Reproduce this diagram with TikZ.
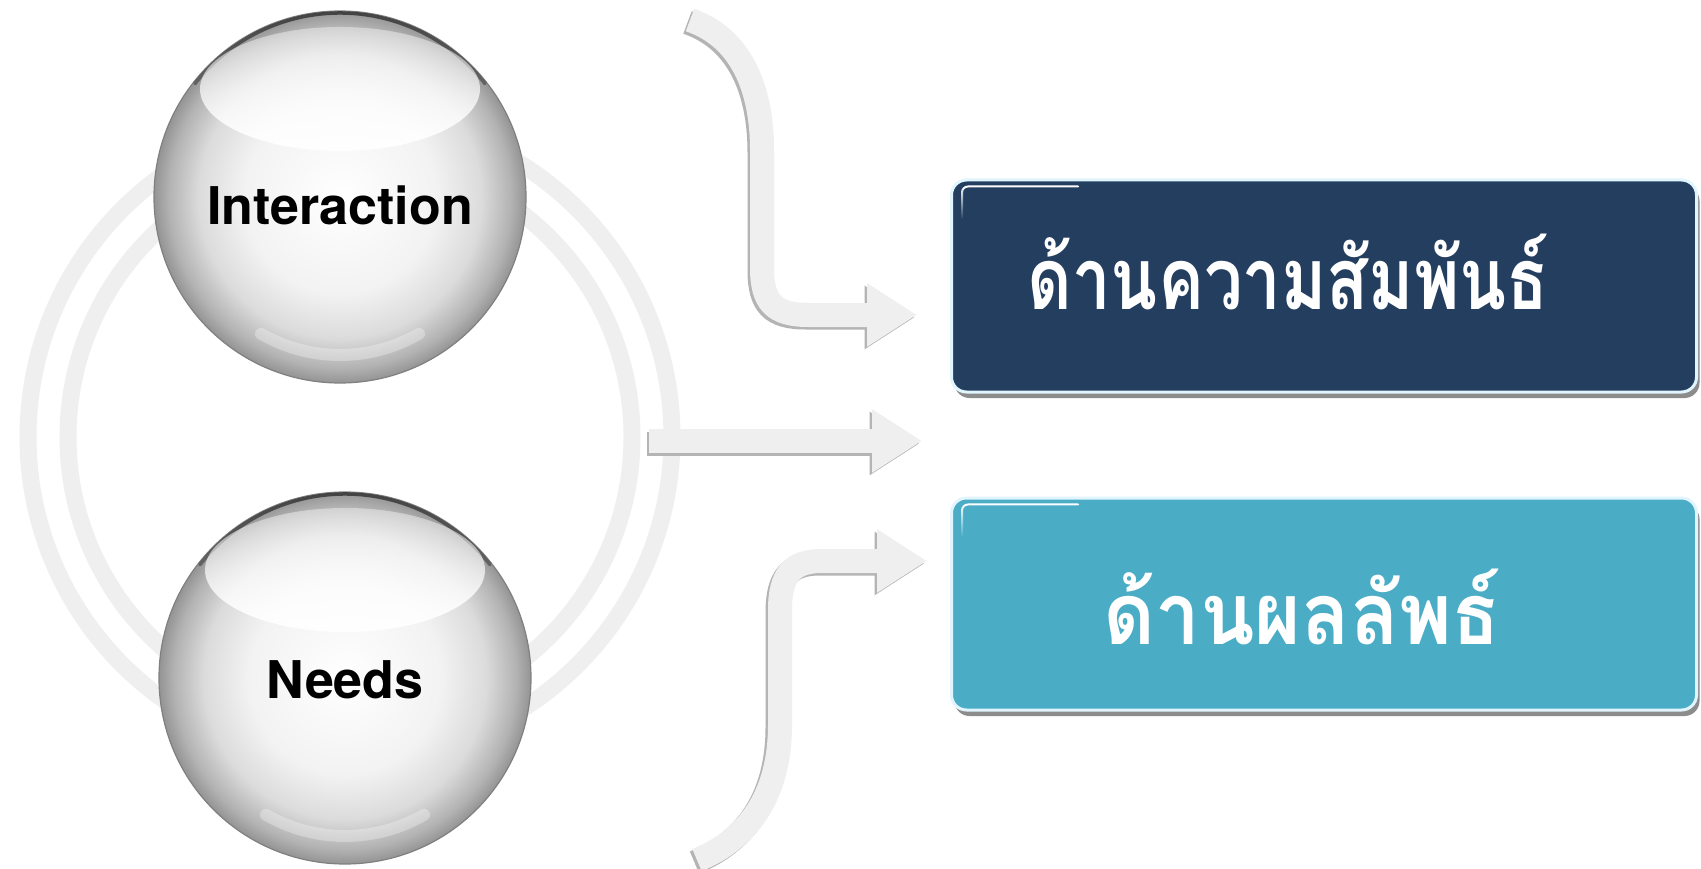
\documentclass[tikz,border=0pt]{standalone}
\usepackage{fontspec}
\usetikzlibrary{arrows.meta,fadings}
\newfontfamily\thaifont[Script=Thai]{Loma}
\newfontfamily\helv{TeX Gyre Heros}
\definecolor{navy}{HTML}{243E60}
\definecolor{tealbox}{HTML}{4BACC6}
\definecolor{arrowfill}{HTML}{EFEFEF}
\definecolor{arrowshade}{HTML}{B4B4B4}
\definecolor{ringc}{HTML}{EFEFEF}
\pgfdeclareradialshading{spheresh}{\pgfpoint{0bp}{0bp}}{%
  color(0bp)=(white); color(13bp)=(white!95!black); color(19bp)=(white!86!black);
  color(23bp)=(white!70!black); color(25bp)=(white!58!black); color(50bp)=(white!58!black)}
\tikzfading[name=fadedown, top color=transparent!0, bottom color=transparent!100]
\tikzfading[name=glossfade, top color=transparent!60, bottom color=transparent!5]
\tikzset{
  ringband/.style={draw=ringc, line width=17pt},
  sphere/.style={circle, minimum size=372pt, inner sep=0pt, shading=spheresh,
    draw=white!50!black, line width=1.2pt},
  spheretext/.style={font=\helv\bfseries\fontsize{52}{52}\selectfont, text=black},
  gloss/.style={fill=white, path fading=glossfade},
  box/.style={rounded corners=15pt, minimum width=745pt, minimum height=212pt,
    inner sep=0pt, draw=white!88!cyan, line width=3pt,
    preaction={fill=black!45, transform canvas={xshift=3pt,yshift=-6pt}}},
  boxtext/.style={text=white, inner sep=0pt, font=\thaifont\bfseries\fontsize{86}{86}\selectfont},
  bandshadow/.style={draw=arrowshade, line width=24pt,
    -{Triangle[length=50pt,width=60pt]}, arrowshade,
    transform canvas={xshift=-2.5pt,yshift=-2.5pt}},
  band/.style={draw=arrowfill, line width=24pt,
    -{Triangle[length=50pt,width=60pt]}, arrowfill},
}
\begin{document}
\begin{tikzpicture}[x=1pt,y=-1pt]
\useasboundingbox (0,0) rectangle (1701,869);
\fill[white] (0,0) rectangle (1701,869);

% rings
\coordinate (rc) at (350,437);
\draw[ringband] (rc) circle[radius=322pt];
\draw[ringband] (rc) circle[radius=282pt];

% arrows
\coordinate (a1s) at (690,20);
\coordinate (a1e) at (917,315);
\coordinate (a2s) at (649,441);
\coordinate (a2e) at (922,441);
\coordinate (a3s) at (697,860);
\coordinate (a3e) at (927,561);
\foreach \st in {bandshadow,band}{
  \draw[\st] (a1s) .. controls (742,38) and (762,90) .. (762,150) -- (762,268)
     .. controls (762,302) and (774,315) .. (808,315) -- (a1e);
  \draw[\st] (a2s) -- (a2e);
  \draw[\st] (a3s) .. controls (752,838) and (780,790) .. (780,725) -- (780,610)
     .. controls (780,575) and (792,561) .. (822,561) -- (a3e);
}

% spheres
\node[sphere] (inter) at (340,197) {};
\node[sphere] (needs) at (345,678) {};
\foreach \s in {inter,needs}{
  % top dark rim
  \draw[white!25!black, line width=3.5pt, line cap=round, path fading=fadedown]
    (\s.center) ++(38:184pt) arc[start angle=38, end angle=142, radius=184pt];
  % glossy highlight
  \fill[gloss] ([yshift=108pt]\s.center) ellipse[x radius=140pt, y radius=62pt];
  % bottom reflection
  \draw[white, line width=12pt, opacity=0.3, line cap=round]
    (\s.center) ++(240:158pt) arc[start angle=240, end angle=300, radius=158pt];
}
\node[spheretext] (tinter) at ([yshift=-8pt]inter.center) {Interaction};
\node[spheretext] (tneeds) at ([yshift=-2pt]needs.center) {Needs};

% boxes
\node[box, fill=navy] (b1) at (1324,286) {};
\node[box, fill=tealbox] (b2) at (1324,604) {};
\node[boxtext] (t1) at ([xshift=-36pt,yshift=14pt]b1.center) {\scalebox{0.80}[1]{ด้านความสัมพันธ์}};
\node[boxtext] (t2) at ([xshift=-22pt,yshift=-3pt]b2.center) {\scalebox{0.93}[1]{ด้านผลลัพธ์}};
\foreach \b in {b1,b2}{
  \draw[white, line width=2pt, path fading=fadedown, line cap=round]
    ([xshift=12pt,yshift=-40pt]\b.north west) -- ([xshift=12pt,yshift=-14pt]\b.north west)
    arc[start angle=180, end angle=90, radius=6pt] -- ++(110pt,0);
}
\end{tikzpicture}
\end{document}
